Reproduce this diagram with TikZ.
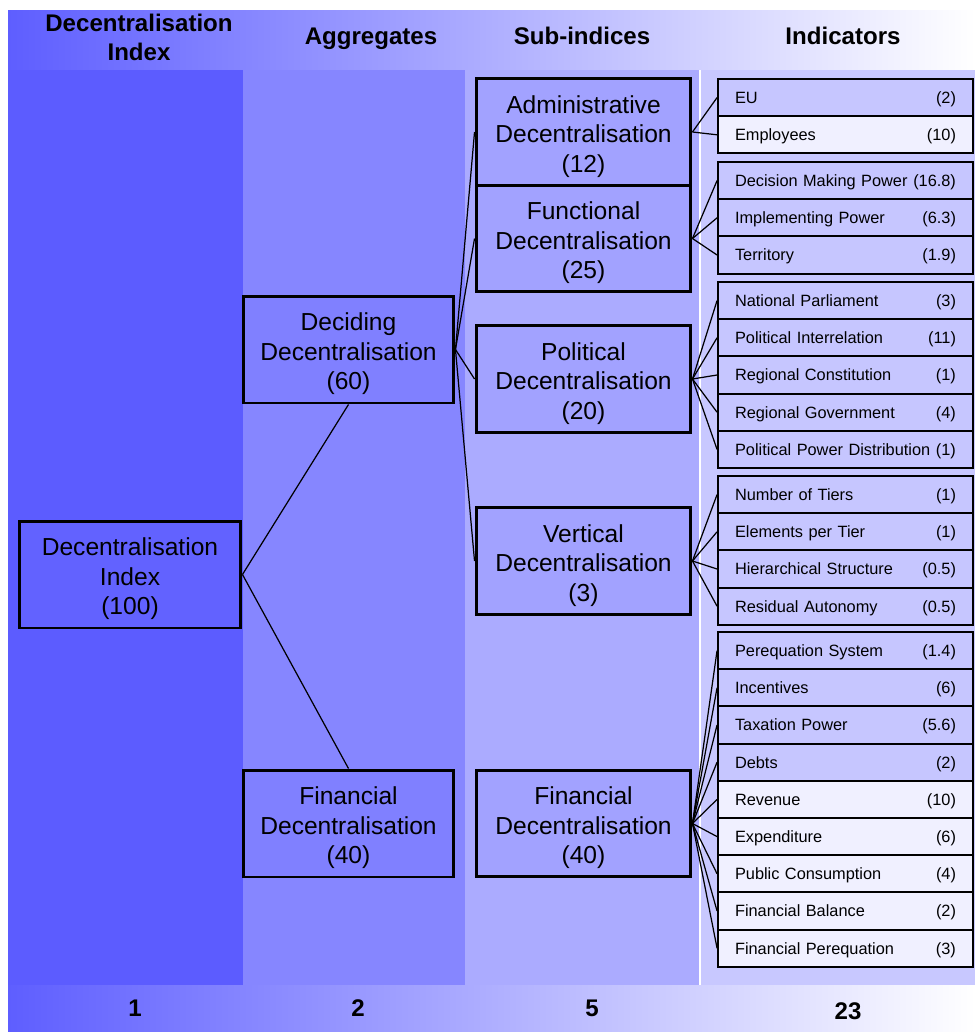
\documentclass[tikz,border=0pt]{standalone}
\usepackage{fontspec}
\setmainfont{Liberation Sans}
\usepackage{xcolor}
\usepackage{tikz}
\definecolor{headleft}{HTML}{5E5EFF}
\definecolor{headmid}{HTML}{B6B6FF}
\definecolor{colone}{HTML}{5C5CFF}
\definecolor{coltwo}{HTML}{8686FF}
\definecolor{colthree}{HTML}{ABABFF}
\definecolor{colfour}{HTML}{C8C8FF}
\definecolor{indexfill}{HTML}{6262FF}
\definecolor{aggfill}{HTML}{8080FF}
\definecolor{subfill}{HTML}{A2A2FF}
\definecolor{indfill}{HTML}{C6C6FF}
\definecolor{indlight}{HTML}{F0F0FF}
\tikzstyle{main box}=[draw=black, line width=1.7pt, align=center, inner sep=0pt, font=\fontsize{14}{16.9}\selectfont, text height=49pt, text depth=3pt]
\tikzstyle{index box}=[main box, fill=indexfill, minimum width=4.44cm, minimum height=2.14cm]
\tikzstyle{aggregate box}=[main box, fill=aggfill, minimum width=4.22cm, minimum height=2.14cm]
\tikzstyle{sub box}=[main box, fill=subfill, minimum width=4.3cm, minimum height=2.13cm]
\tikzstyle{indicator}=[draw=black, line width=1.1pt, fill=indfill, text width=4.42cm, inner xsep=0.34cm, inner ysep=0pt, text height=8.6pt, text depth=2pt, minimum height=0.744cm, font=\fontsize{9.3}{11}\selectfont]
\tikzstyle{light indicator}=[indicator, fill=indlight]
\tikzstyle{head}=[align=center, font=\fontsize{13.7}{16.4}\selectfont\bfseries]
\tikzstyle{thin edge}=[-, draw=black, line width=0.7pt]
\pgfdeclarelayer{bglayer}
\pgfdeclarelayer{edgelayer}
\pgfdeclarelayer{nodelayer}
\pgfsetlayers{bglayer,main,edgelayer,nodelayer}
\begin{document}
\begin{tikzpicture}[x=0.02cm, y=-0.02cm]
	\useasboundingbox (0, 0) rectangle (975, 1032);
	\begin{pgfonlayer}{bglayer}
		\shade [left color=headleft, middle color=headmid, right color=white] (8, 10) rectangle (975, 70);
		\fill [colone] (8, 70) rectangle (243, 985);
		\fill [coltwo] (243, 70) rectangle (465, 985);
		\fill [colthree] (465, 70) rectangle (700, 985);
		\fill [colfour] (700, 70) rectangle (975, 985);
		\draw [white, line width=0.6pt] (700, 70) -- (700, 985);
		\shade [left color=headleft, middle color=headmid, right color=white] (8, 985) rectangle (975, 1032);
	\end{pgfonlayer}
	\begin{pgfonlayer}{nodelayer}
		% column titles and counts
		\node [style=head] (h0) at (139, 37) {Decentralisation\\Index};
		\node [style=head, anchor=base] (h1) at (371, 44) {Aggregates};
		\node [style=head, anchor=base] (h2) at (582, 44) {Sub-indices};
		\node [style=head, anchor=base] (h3) at (843, 44) {Indicators};
		\node [style=head] (f0) at (135, 1008) {1};
		\node [style=head] (f1) at (358, 1008) {2};
		\node [style=head] (f2) at (592, 1008) {5};
		\node [style=head] (f3) at (848, 1011) {23};
		% index, aggregates, sub-indices
		\node [style=index box] (0) at (130, 574.5) {Decentralisation\\Index\\(100)};
		\node [style=aggregate box] (1) at (348.5, 349.5) {Deciding\\Decentralisation\\(60)};
		\node [style=aggregate box] (2) at (348.5, 823.5) {Financial\\Decentralisation\\(40)};
		\node [style=sub box] (3) at (583.5, 132) {Administrative\\Decentralisation\\(12)};
		\node [style=sub box] (4) at (583.5, 238.5) {Functional\\Decentralisation\\(25)};
		\node [style=sub box] (5) at (583.5, 379) {Political\\Decentralisation\\(20)};
		\node [style=sub box] (6) at (583.5, 561) {Vertical\\Decentralisation\\(3)};
		\node [style=sub box] (7) at (583.5, 823.5) {Financial\\Decentralisation\\(40)};
		% indicators
		\node [style=indicator] (8) at (845.5, 97.6) {EU\hfill(2)};
		\node [style=light indicator] (9) at (845.5, 134.8) {Employees\hfill(10)};
		\node [style=indicator] (10) at (845.5, 180.6) {Decision Making Power\hfill(16.8)};
		\node [style=indicator] (11) at (845.5, 217.8) {Implementing Power\hfill(6.3)};
		\node [style=indicator] (12) at (845.5, 255.0) {Territory\hfill(1.9)};
		\node [style=indicator] (13) at (845.5, 300.6) {National Parliament\hfill(3)};
		\node [style=indicator] (14) at (845.5, 337.8) {Political Interrelation\hfill(11)};
		\node [style=indicator] (15) at (845.5, 375.0) {Regional Constitution\hfill(1)};
		\node [style=indicator] (16) at (845.5, 412.2) {Regional Government\hfill(4)};
		\node [style=indicator] (17) at (845.5, 449.4) {Political Power Distribution\hfill(1)};
		\node [style=indicator] (18) at (845.5, 494.6) {Number of Tiers\hfill(1)};
		\node [style=indicator] (19) at (845.5, 531.8) {Elements per Tier\hfill(1)};
		\node [style=indicator] (20) at (845.5, 569.0) {Hierarchical Structure\hfill(0.5)};
		\node [style=indicator] (21) at (845.5, 606.2) {Residual Autonomy\hfill(0.5)};
		\node [style=indicator] (22) at (845.5, 650.6) {Perequation System\hfill(1.4)};
		\node [style=indicator] (23) at (845.5, 687.8) {Incentives\hfill(6)};
		\node [style=indicator] (24) at (845.5, 725.0) {Taxation Power\hfill(5.6)};
		\node [style=indicator] (25) at (845.5, 762.2) {Debts\hfill(2)};
		\node [style=light indicator] (26) at (845.5, 799.4) {Revenue\hfill(10)};
		\node [style=light indicator] (27) at (845.5, 836.6) {Expenditure\hfill(6)};
		\node [style=light indicator] (28) at (845.5, 873.8) {Public Consumption\hfill(4)};
		\node [style=light indicator] (29) at (845.5, 911.0) {Financial Balance\hfill(2)};
		\node [style=light indicator] (30) at (845.5, 948.2) {Financial Perequation\hfill(3)};
	\end{pgfonlayer}
	\begin{pgfonlayer}{edgelayer}
		\draw [style=thin edge] (0.east) to (1.south);
		\draw [style=thin edge] (0.east) to (2.north);
		\draw [style=thin edge] (1.east) to (3.west);
		\draw [style=thin edge] (1.east) to (4.west);
		\draw [style=thin edge] (1.east) to (5.west);
		\draw [style=thin edge] (1.east) to (6.west);
		\draw [style=thin edge] (3.east) to (8.west);
		\draw [style=thin edge] (3.east) to (9.west);
		\draw [style=thin edge] (4.east) to (10.west);
		\draw [style=thin edge] (4.east) to (11.west);
		\draw [style=thin edge] (4.east) to (12.west);
		\draw [style=thin edge] (5.east) to (13.west);
		\draw [style=thin edge] (5.east) to (14.west);
		\draw [style=thin edge] (5.east) to (15.west);
		\draw [style=thin edge] (5.east) to (16.west);
		\draw [style=thin edge] (5.east) to (17.west);
		\draw [style=thin edge] (6.east) to (18.west);
		\draw [style=thin edge] (6.east) to (19.west);
		\draw [style=thin edge] (6.east) to (20.west);
		\draw [style=thin edge] (6.east) to (21.west);
		\draw [style=thin edge] (7.east) to (22.west);
		\draw [style=thin edge] (7.east) to (23.west);
		\draw [style=thin edge] (7.east) to (24.west);
		\draw [style=thin edge] (7.east) to (25.west);
		\draw [style=thin edge] (7.east) to (26.west);
		\draw [style=thin edge] (7.east) to (27.west);
		\draw [style=thin edge] (7.east) to (28.west);
		\draw [style=thin edge] (7.east) to (29.west);
		\draw [style=thin edge] (7.east) to (30.west);
	\end{pgfonlayer}
\end{tikzpicture}
\end{document}
